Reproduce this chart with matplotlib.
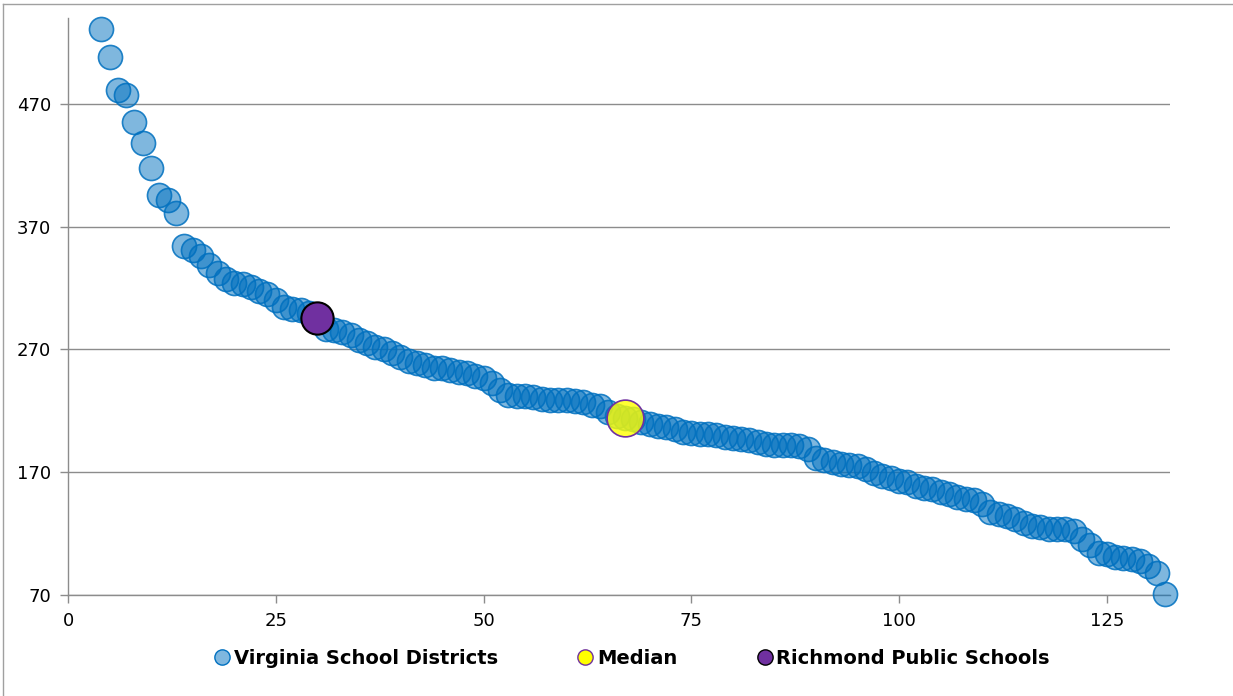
import matplotlib.pyplot as plt
from matplotlib.lines import Line2D

# Districts ranked by value (rank on x, value on y)
district_rank = list(range(4, 133))
district_value = [
    531, 508, 481, 477, 455, 438, 418, 396, 392, 381,
    354, 351, 346, 339, 332, 327, 324, 323, 321, 318,
    315, 310, 305, 303, 302, 300, 297, 287, 286, 284,
    282, 278, 275, 272, 270, 267, 264, 261, 259, 257,
    255, 255, 253, 252, 251, 248, 247, 243, 237, 233,
    232, 232, 231, 230, 229, 229, 229, 228, 227, 225,
    224, 219, 216, 214, 213, 211, 209, 208, 207, 205,
    203, 202, 201, 201, 200, 199, 198, 197, 196, 195,
    193, 192, 192, 192, 191, 189, 182, 180, 178, 177,
    176, 175, 173, 169, 167, 165, 163, 162, 159, 157,
    156, 154, 152, 150, 148, 147, 144, 138, 136, 134,
    132, 129, 126, 125, 124, 124, 124, 122, 116, 111,
    104, 103, 101, 100, 99, 98, 94, 88, 71,
]
median_rank = [67]
median_value = [214]
richmond_rank = [30]
richmond_value = [296]

x_ticks = [0, 25, 50, 75, 100, 125]
y_ticks = [70, 170, 270, 370, 470]

fig = plt.figure(figsize=(12.33, 6.96), dpi=100)
ax = fig.add_axes([68 / 1233, 1 - 595 / 696, (1170 - 68) / 1233, (595 - 18) / 696])

ax.scatter(district_rank, district_value, s=300,
           facecolor=(0.0, 0.44, 0.75, 0.5), edgecolor=(0.0, 0.44, 0.75, 0.85),
           linewidth=1.2, zorder=3, clip_on=False)
ax.scatter(median_rank, median_value, s=700,
           facecolor=(1.0, 1.0, 0.0, 0.8), edgecolor='#7030A0',
           linewidth=1.2, zorder=4)
ax.scatter(richmond_rank, richmond_value, s=540,
           facecolor='#7030A0', edgecolor='black', linewidth=1.5, zorder=5)

ax.set_xlim(0, 132.6)
ax.set_ylim(70, 540)
ax.set_xticks(x_ticks)
ax.set_yticks(y_ticks)
ax.grid(axis='y', color='#8c8c8c', linewidth=1.0, zorder=0)
ax.set_axisbelow(True)

for side in ['top', 'right']:
    ax.spines[side].set_visible(False)
for side in ['left', 'bottom']:
    ax.spines[side].set_color('#8c8c8c')
    ax.spines[side].set_linewidth(1.0)
ax.tick_params(axis='both', color='#8c8c8c', length=6, width=1.0,
               labelsize=13, pad=6)

# outer chart border
fig.add_artist(Line2D([3 / 1233, 1], [1 - 4 / 696, 1 - 4 / 696],
                      color='#a0a0a0', linewidth=1.0))
fig.add_artist(Line2D([3 / 1233, 3 / 1233], [0, 1 - 4 / 696],
                      color='#a0a0a0', linewidth=1.0))

handles = [
    Line2D([], [], linestyle='none', marker='o', markersize=11,
           markerfacecolor='#7fb7df', markeredgecolor='#0070C0'),
    Line2D([], [], linestyle='none', marker='o', markersize=11,
           markerfacecolor='#ffff00', markeredgecolor='#7030A0'),
    Line2D([], [], linestyle='none', marker='o', markersize=11,
           markerfacecolor='#7030A0', markeredgecolor='black'),
]
labels = ['Virginia School Districts', 'Median', 'Richmond Public Schools']
fig.legend(handles, labels, loc='center', ncol=3, frameon=False,
           bbox_to_anchor=(631 / 1233, 1 - 658 / 696),
           handletextpad=0.1, columnspacing=4.0, handlelength=1.0,
           prop={'weight': 'bold', 'size': 14})

fig.savefig('out.png', dpi=100)
